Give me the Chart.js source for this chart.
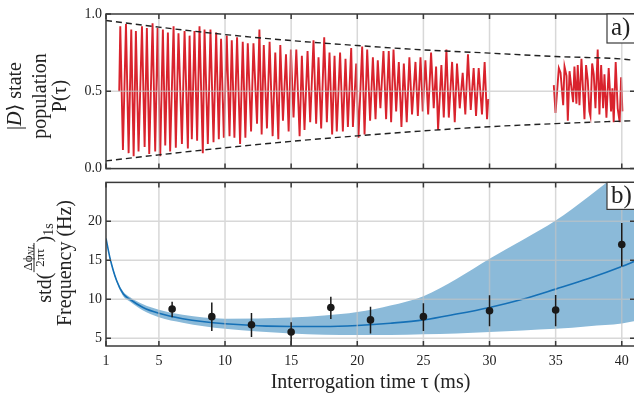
<!DOCTYPE html>
<html>
<head>
<meta charset="utf-8">
<script src="https://cdn.jsdelivr.net/npm/chart.js@4.4.0/dist/chart.umd.min.js"></script>
<style>
html, body { margin: 0; padding: 0; background: #fff; overflow: hidden; width: 634px; height: 397px; }
canvas { position: absolute; left: 0; }
#top { top: 0; }
#bot { top: 170px; }
</style>
</head>
<body>
<canvas id="top" width="640" height="181"></canvas>
<canvas id="bot" width="640" height="227"></canvas>
<script>
const SERIF = "'Liberation Serif', 'DejaVu Serif', serif";
const INK = '#222';
const GRID = 'rgba(195,195,195,0.65)';
const FRAME = '#3a3a3a';
const RED = '#d9232d';
const BLUE = '#1570b6';
const BAND = '#8bbad9';

// shared time axis (ms)
const xTicks = [1, 5, 10, 15, 20, 25, 30, 35, 40];
const popTicks = [0, 0.5, 1];
const freqTicks = [5, 10, 15, 20];

// a) population, first run 2-30 ms
const popT1 = [2.00,2.08,2.28,2.51,2.71,2.91,3.09,3.26,3.46,3.72,3.92,4.09,4.27,4.52,4.72,4.90,5.10,5.30,5.48,5.68,5.85,6.11,6.28,6.48,6.74,6.94,7.19,
  7.32,7.49,7.69,7.89,8.07,8.32,8.45,8.70,8.90,9.13,9.33,9.53,9.70,9.91,10.13,10.34,10.51,10.71,10.91,11.14,11.34,11.54,11.72,11.97,12.15,12.42,12.60,12.77,
  12.93,13.17,13.37,13.60,13.80,14.03,14.18,14.38,14.61,14.81,14.98,15.18,15.39,15.64,15.81,16.01,16.24,16.44,16.69,16.89,17.07,17.27,17.50,17.70,17.90,18.10,18.28,18.45,
  18.70,18.91,19.11,19.29,19.54,19.67,19.92,20.09,20.37,20.55,20.75,20.97,21.18,21.38,21.55,21.75,21.98,22.18,22.38,22.56,22.74,22.94,23.14,23.34,23.52,23.74,23.94,24.14,
  24.40,24.58,24.78,24.95,25.15,25.36,25.58,25.78,25.96,26.11,26.36,26.54,26.74,26.92,27.17,27.37,27.54,27.75,27.97,28.17,28.37,28.58,28.80,28.98,29.18,29.43,29.63,29.81,29.91];
const popP1 = [0.50,0.92,0.12,0.935,0.10,0.90,0.08,0.89,0.11,0.92,0.14,0.91,0.095,0.94,0.11,0.91,0.08,0.90,0.15,0.88,0.11,0.92,0.135,0.875,0.16,0.89,0.13,
  0.86,0.19,0.89,0.18,0.92,0.10,0.90,0.16,0.90,0.17,0.88,0.19,0.84,0.20,0.86,0.21,0.83,0.20,0.85,0.16,0.82,0.20,0.81,0.24,0.81,0.29,0.90,0.22,
  0.80,0.26,0.82,0.21,0.75,0.19,0.80,0.31,0.74,0.24,0.77,0.33,0.77,0.21,0.73,0.25,0.76,0.30,0.83,0.29,0.72,0.26,0.85,0.30,0.75,0.22,0.73,0.24,
  0.75,0.24,0.71,0.27,0.78,0.27,0.68,0.20,0.79,0.22,0.77,0.31,0.72,0.32,0.70,0.39,0.76,0.32,0.76,0.30,0.77,0.37,0.69,0.27,0.68,0.30,0.72,0.35,
  0.69,0.34,0.72,0.37,0.70,0.35,0.75,0.39,0.66,0.25,0.67,0.33,0.77,0.33,0.69,0.30,0.68,0.39,0.62,0.35,0.74,0.38,0.65,0.34,0.65,0.35,0.69,0.32,0.45];

// a) population, second run 35-40 ms
const popT2 = [34.86,34.99,35.24,35.37,35.57,35.67,35.82,35.92,36.05,36.17,36.32,36.42,36.57,36.67,36.80,36.95,37.08,37.18,37.30,37.43,
  37.55,37.63,37.76,37.88,38.01,38.18,38.31,38.44,38.59,38.69,38.84,39.01,39.19,39.29,39.39,39.54,39.69,39.84,39.95,40.05];
const popP2 = [0.54,0.36,0.65,0.62,0.41,0.66,0.60,0.31,0.63,0.54,0.43,0.66,0.42,0.67,0.41,0.71,0.49,0.32,0.67,0.57,
  0.37,0.34,0.68,0.61,0.39,0.77,0.35,0.67,0.39,0.61,0.33,0.65,0.37,0.52,0.30,0.69,0.39,0.30,0.59,0.37];

// decay envelope
const envT = [1, 5, 10, 15, 20, 25, 30, 35, 40, 41];
const envUp = [0.958, 0.915, 0.867, 0.828, 0.796, 0.768, 0.747, 0.725, 0.709, 0.70];
const envLo = [0.05, 0.089, 0.135, 0.176, 0.212, 0.244, 0.271, 0.291, 0.307, 0.31];

// b) frequency noise model + band
const fitT   = [1, 1.3, 1.8, 2.3, 2.8, 3.8, 5, 6.8, 10, 15, 17.5, 20, 22.5, 25, 27.5, 30, 32.5, 35, 37.5, 40, 41];
const fitMid = [17.8, 15.3, 12.4, 10.7, 10.0, 8.95, 8.2, 7.5, 6.85, 6.5, 6.5, 6.64, 6.93, 7.35, 8.1, 8.95, 10.0, 11.3, 12.65, 14.2, 14.9];
const bandUp = [17.8, 15.4, 12.6, 11.0, 10.3, 9.35, 8.65, 8.0, 7.5, 7.65, 7.9, 8.35, 9.2, 10.4, 12.6, 15.2, 17.6, 20.1, 23.2, 26.5, 27.8];
const bandLo = [17.8, 15.2, 12.2, 10.4, 9.7, 8.55, 7.7, 7.0, 6.2, 5.6, 5.45, 5.4, 5.4, 5.5, 5.62, 5.8, 6.0, 6.2, 6.55, 6.9, 7.2];

// b) measured points with error bars
const ptT = [6, 9, 12, 15, 18, 21, 25, 30, 35, 40];
const ptV = [8.74, 7.77, 6.72, 5.80, 8.95, 7.35, 7.77, 8.53, 8.62, 17.02];
const errLo = [7.69, 5.92, 5.17, 4.12, 7.48, 5.59, 5.92, 6.55, 6.55, 14.2];
const errHi = [9.67, 9.58, 8.24, 7.06, 10.33, 9.04, 9.50, 10.51, 10.55, 19.8];

function toXY(xs, ys) { return xs.map((x, i) => ({x: x, y: ys[i]})); }
function fixTicks(list) { return s => { s.ticks = list.map(v => ({value: v})); }; }

// grid goes over the curves but under the markers
const grid = {
  id: 'grid',
  beforeDatasetDraw(chart, args, opts) {
    if (args.index !== opts.before) return;
    const {ctx, chartArea: a, scales} = chart;
    ctx.save();
    ctx.strokeStyle = GRID; ctx.lineWidth = 1.5;
    ctx.beginPath();
    for (const v of xTicks) {
      if (v === 1) continue;
      const px = scales.x.getPixelForValue(v);
      ctx.moveTo(px, a.top); ctx.lineTo(px, a.bottom);
    }
    for (const v of opts.yTicks) {
      const py = scales.y.getPixelForValue(v);
      if (Math.abs(py - a.top) < 1 || Math.abs(py - a.bottom) < 1) continue;
      ctx.moveTo(a.left, py); ctx.lineTo(a.right, py);
    }
    ctx.stroke();
    if (opts.errors) {
      ctx.beginPath(); ctx.rect(a.left, a.top, a.right - a.left, a.bottom - a.top); ctx.clip();
      ctx.strokeStyle = '#1a1a1a'; ctx.lineWidth = 1.5;
      ctx.beginPath();
      ptT.forEach((t, i) => {
        const px = scales.x.getPixelForValue(t);
        ctx.moveTo(px, scales.y.getPixelForValue(errLo[i]));
        ctx.lineTo(px, scales.y.getPixelForValue(errHi[i]));
      });
      ctx.stroke();
    }
    ctx.restore();
  }
};

const frame = {
  id: 'frame',
  afterDatasetsDraw(chart, args, opts) {
    const {ctx, chartArea: a, scales} = chart;
    ctx.save();
    ctx.strokeStyle = FRAME; ctx.lineWidth = 1.5;
    ctx.beginPath();
    for (const v of xTicks) {
      const px = scales.x.getPixelForValue(v);
      ctx.moveTo(px, a.top); ctx.lineTo(px, a.top + 5);
      ctx.moveTo(px, a.bottom); ctx.lineTo(px, a.bottom - 5);
    }
    for (const v of opts.yTicks) {
      const py = scales.y.getPixelForValue(v);
      ctx.moveTo(a.left, py); ctx.lineTo(a.left + 5, py);
      ctx.moveTo(a.right, py); ctx.lineTo(a.right - 5, py);
    }
    ctx.stroke();
    ctx.strokeRect(a.left, a.top, a.right - a.left, a.bottom - a.top);
    // panel tag
    ctx.fillStyle = '#fff';
    ctx.fillRect(607, a.top, a.right - 607 + 4, opts.tagH);
    ctx.lineWidth = 1.2;
    ctx.strokeRect(607, a.top, a.right - 607 + 4, opts.tagH);
    ctx.fillStyle = INK;
    ctx.font = '25px ' + SERIF;
    ctx.textAlign = 'left'; ctx.textBaseline = 'alphabetic';
    ctx.fillText(opts.tag, 611, a.top + 21);
    ctx.restore();
  }
};

function vtext(ctx, text, bx, cy, font) {
  ctx.save();
  ctx.translate(bx, cy); ctx.rotate(-Math.PI / 2);
  ctx.font = font; ctx.fillStyle = INK;
  ctx.textAlign = 'center'; ctx.textBaseline = 'alphabetic';
  ctx.fillText(text, 0, 0);
  ctx.restore();
}

const topTitles = {
  id: 'topTitles',
  afterDraw(chart) {
    const ctx = chart.ctx;
    const big = '20px ' + SERIF;
    // "|D⟩ state" with italic D
    ctx.save();
    ctx.translate(21, 96); ctx.rotate(-Math.PI / 2);
    ctx.fillStyle = INK; ctx.textBaseline = 'alphabetic'; ctx.textAlign = 'left';
    ctx.font = big; const w1 = ctx.measureText('|').width;
    ctx.font = 'italic ' + big; const w2 = ctx.measureText('D').width;
    ctx.font = big; const w3 = ctx.measureText('\u27e9 state').width;
    let x = -(w1 + w2 + w3) / 2;
    ctx.font = big; ctx.fillText('|', x, 0); x += w1;
    ctx.font = 'italic ' + big; ctx.fillText('D', x, 0); x += w2;
    ctx.font = big; ctx.fillText('\u27e9 state', x, 0);
    ctx.restore();
    vtext(ctx, 'population', 46, 96, big);
    vtext(ctx, 'P(\u03c4)', 66, 96, big);
  }
};

const botTitles = {
  id: 'botTitles',
  afterDraw(chart) {
    const ctx = chart.ctx;
    const a = chart.chartArea;
    const big = '20px ' + SERIF;
    // std( Δϕ_NL / 2πτ )_1s
    ctx.save();
    ctx.translate(51, 93); ctx.rotate(-Math.PI / 2);
    ctx.fillStyle = INK; ctx.textBaseline = 'alphabetic'; ctx.textAlign = 'left';
    const mid = '13px ' + SERIF, sub = 'italic 9px ' + SERIF, s13 = '14px ' + SERIF;
    ctx.font = big; const w1 = ctx.measureText('std(').width; const wc = ctx.measureText(')').width;
    ctx.font = mid; const wn = ctx.measureText('\u0394\u03d5').width; const wd = ctx.measureText('2\u03c0\u03c4').width;
    ctx.font = sub; const wnl = ctx.measureText('NL').width;
    ctx.font = s13; const ws = ctx.measureText('1s').width;
    const wf = Math.max(wn + wnl, wd) + 4;
    let x = -(w1 + wf + wc + ws) / 2;
    ctx.font = big; ctx.fillText('std(', x, 0); x += w1;
    const fx = x + (wf - wn - wnl) / 2;
    ctx.font = mid; ctx.fillText('\u0394\u03d5', fx, -19.5);
    ctx.font = sub; ctx.fillText('NL', fx + wn, -17.5);
    ctx.font = mid; ctx.fillText('2\u03c0\u03c4', x + (wf - wd) / 2, -7.5);
    ctx.fillRect(x + 0.5, -17.5, wf - 1, 1);
    x += wf;
    ctx.font = big; ctx.fillText(')', x, 0); x += wc;
    ctx.font = s13; ctx.fillText('1s', x, 2);
    ctx.restore();
    vtext(ctx, 'Frequency (Hz)', 71, 93, big);
    // x title
    ctx.save();
    ctx.font = big; ctx.fillStyle = INK;
    ctx.textAlign = 'center'; ctx.textBaseline = 'middle';
    ctx.fillText('Interrogation time \u03c4 (ms)', (a.left + a.right) / 2, 213);
    ctx.restore();
  }
};

const tickFont = {family: SERIF, size: 14};

new Chart(document.getElementById('top'), {
  type: 'line',
  data: {
    datasets: [
      {data: toXY(envT, envUp), borderColor: '#222', borderWidth: 1.4, borderDash: [6, 4], pointRadius: 0, cubicInterpolationMode: 'monotone'},
      {data: toXY(envT, envLo), borderColor: '#222', borderWidth: 1.4, borderDash: [6, 4], pointRadius: 0, cubicInterpolationMode: 'monotone'},
      {data: toXY(popT1, popP1), borderColor: RED, borderWidth: 1.9, pointRadius: 0, tension: 0},
      {data: toXY(popT2, popP2), borderColor: RED, borderWidth: 1.9, pointRadius: 0, tension: 0}
    ]
  },
  options: {
    responsive: false,
    animation: false,
    layout: {padding: {top: 14, bottom: 2, left: 0, right: 5}},
    plugins: {legend: {display: false}, tooltip: {enabled: false},
      grid: {before: 1, yTicks: popTicks, errors: false},
      frame: {yTicks: popTicks, tag: 'a)', tagH: 29}},
    scales: {
      x: {type: 'linear', min: 1, max: 41, display: false, afterBuildTicks: fixTicks(xTicks)},
      y: {min: 0, max: 1, afterBuildTicks: fixTicks(popTicks),
        ticks: {font: tickFont, color: INK, padding: 4, callback: v => v.toFixed(1)},
        grid: {display: false, drawTicks: false}, border: {display: false},
        afterFit: s => { s.width = 106; }}
    }
  },
  plugins: [grid, frame, topTitles]
});

new Chart(document.getElementById('bot'), {
  type: 'line',
  data: {
    datasets: [
      {data: toXY(ptT, ptV), showLine: false, pointRadius: 3.8, pointBackgroundColor: '#1a1a1a', pointBorderWidth: 0},
      {data: toXY(fitT, fitMid), borderColor: BLUE, borderWidth: 1.6, pointRadius: 0, cubicInterpolationMode: 'monotone'},
      {data: toXY(fitT, bandUp), borderWidth: 0, pointRadius: 0, backgroundColor: BAND, fill: '+1', cubicInterpolationMode: 'monotone'},
      {data: toXY(fitT, bandLo), borderWidth: 0, pointRadius: 0, cubicInterpolationMode: 'monotone'}
    ]
  },
  options: {
    responsive: false,
    animation: false,
    layout: {padding: {top: 9, bottom: 0, left: 0, right: 5}},
    plugins: {legend: {display: false}, tooltip: {enabled: false},
      grid: {before: 0, yTicks: freqTicks, errors: true},
      frame: {yTicks: freqTicks, tag: 'b)', tagH: 27}},
    scales: {
      x: {type: 'linear', min: 1, max: 41, afterBuildTicks: fixTicks(xTicks),
        ticks: {font: tickFont, color: INK, padding: 7, maxRotation: 0, callback: v => String(v)},
        grid: {display: false, drawTicks: false}, border: {display: false},
        afterFit: s => { s.height = 51; }},
      y: {min: 4, max: 25, afterBuildTicks: fixTicks(freqTicks),
        ticks: {font: tickFont, color: INK, padding: 4, callback: v => String(v)},
        grid: {display: false, drawTicks: false}, border: {display: false},
        afterFit: s => { s.width = 106; }}
    }
  },
  plugins: [grid, frame, botTitles]
});
</script>
</body>
</html>
